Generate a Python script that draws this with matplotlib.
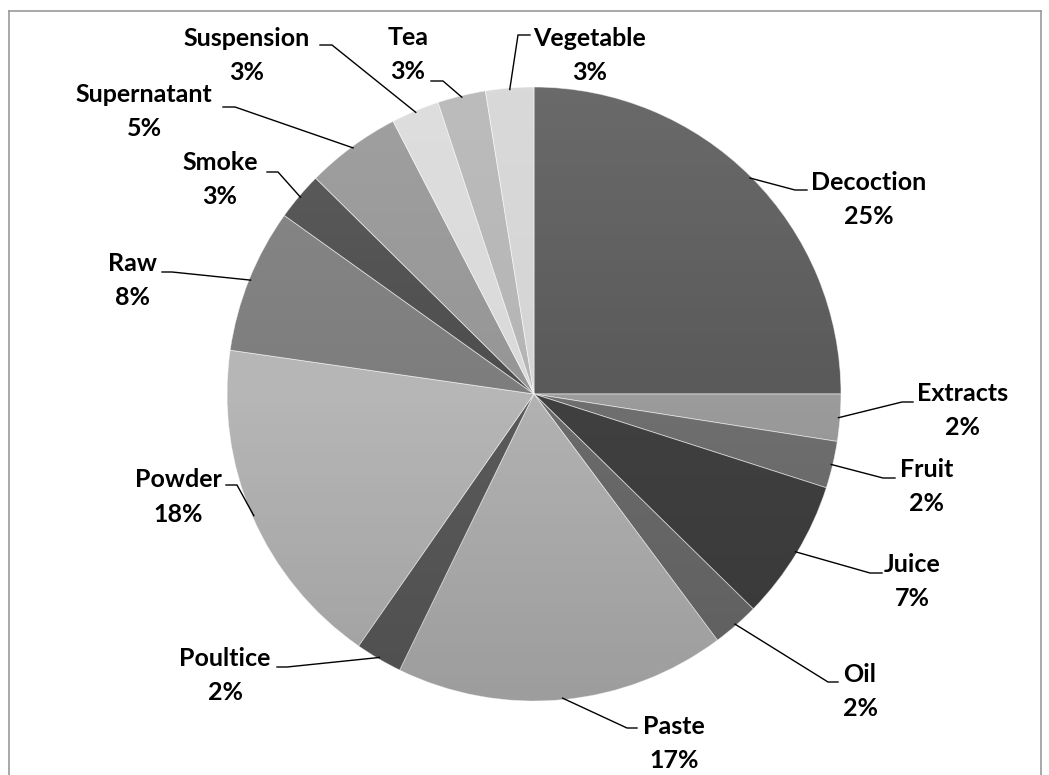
import matplotlib
matplotlib.use("Agg")
import matplotlib.pyplot as plt
import numpy as np
from matplotlib.patches import Circle
from matplotlib.lines import Line2D

# ---------------- data ----------------
categories = ["Decoction", "Extracts", "Fruit", "Juice", "Oil", "Paste", "Poultice",
              "Powder", "Raw", "Smoke", "Supernatant", "Suspension", "Tea", "Vegetable"]
values = [25.0, 2.47, 2.47, 7.4, 2.47, 17.4, 2.47, 17.6, 7.6, 2.53, 5.0, 2.53, 2.53, 2.53]

# ---------------- style ----------------
colors = ["#5a5a5a", "#9b9b9b", "#6f6f6f", "#404040", "#6b6b6b", "#b2b2b2", "#5a5a5a",
          "#b6b6b6", "#7d7d7d", "#4d4d4d", "#969696", "#dadada", "#b5b5b5", "#d5d5d5"]

W, H, DPI = 1049, 775, 100
CX, CY, R = 534, 394, 307  # pie centre / radius in pixels

# label layout in pixels: (name centre x, name centre y)
label_pos = [(869, 183), (963, 394), (927, 470), (912, 564), (860, 674), (674, 726),
             (225, 659), (178, 480), (132, 264), (220, 163), (144, 95), (247, 39),
             (408, 38), (590, 39)]
# leader line elbows and ends (pixels)
elbows = [((795, 190), (807, 190)), ((902, 402), (913, 402)), ((883, 478), (895, 478)),
          ((870, 573), (882, 573)), ((828, 682), (838, 682)), ((627, 728), (637, 728)),
          ((287, 667), (277, 667)), ((237, 485), (226, 485)), ((172, 272), (162, 272)),
          ((278, 172), (267, 172)), ((235, 107), (223, 107)), ((332, 45), (320, 45)),
          ((443, 81), (431, 81)), ((518, 35), (530, 35))]

plt.rcParams['font.family'] = ['Lato', 'DejaVu Sans']

fig = plt.figure(figsize=(W / DPI, H / DPI), dpi=DPI)
ax = fig.add_axes([0, 0, 1, 1])


def px(x, y):
    return ((x - CX) / R, (CY - y) / R)


wedges, _ = ax.pie(values, colors=colors, startangle=90, counterclock=False,
                   radius=1.0, center=(0, 0),
                   wedgeprops=dict(edgecolor=(1, 1, 1, 0.6), linewidth=0.6))

# subtle vertical gradient shading over the pie
grad = np.linspace(0, 1, 256)
rgba = np.zeros((256, 1, 4))
top_a, bot_a = 0.10, 0.12
for i, g in enumerate(grad):
    if g < 0.5:
        rgba[i, 0] = [1, 1, 1, top_a * (0.5 - g) * 2]
    else:
        rgba[i, 0] = [0, 0, 0, bot_a * (g - 0.5) * 2]
im = ax.imshow(rgba, extent=(-1, 1, -1, 1), origin="upper", aspect="auto", zorder=3,
               interpolation="bilinear")
clip = Circle((0, 0), 1.0, transform=ax.transData)
im.set_clip_path(clip)

total = sum(values)
cum = 0.0
for i, (cat, v) in enumerate(zip(categories, values)):
    mid = (cum + v / 2) / total * 2 * np.pi
    cum += v
    sx, sy = np.sin(mid) * 0.995, np.cos(mid) * 0.995
    (ex, ey), (fx, fy) = elbows[i]
    e = px(ex, ey)
    f = px(fx, fy)
    ax.plot([sx, e[0], f[0]], [sy, e[1], f[1]], color="black", lw=1.0, zorder=4,
            solid_joinstyle="miter")
    lx, ly = label_pos[i]
    pct = f"{round(v / total * 100)}%"
    p1 = px(lx, ly)
    p2 = px(lx, ly + 34)
    ax.text(p1[0], p1[1], cat, ha="center", va="center", fontsize=18,
            fontweight="bold", color="black", zorder=5)
    ax.text(p2[0], p2[1], pct, ha="center", va="center", fontsize=18,
            fontweight="bold", color="black", zorder=5)

ax.set_xlim(-CX / R, (W - CX) / R)
ax.set_ylim(-(H - CY) / R, CY / R)
ax.set_aspect("auto")
ax.axis("off")

# chart frame
fx0, fx1 = 8.5 / W, 1040.5 / W
fy0, fy1 = 1 - 10.5 / H, -0.05
for xs, ys in [([fx0, fx1], [fy0, fy0]), ([fx0, fx0], [fy0, fy1]), ([fx1, fx1], [fy0, fy1])]:
    fig.add_artist(Line2D(xs, ys, color="#9a9a9a", lw=1.2, transform=fig.transFigure))

fig.savefig("out.png", dpi=DPI)
